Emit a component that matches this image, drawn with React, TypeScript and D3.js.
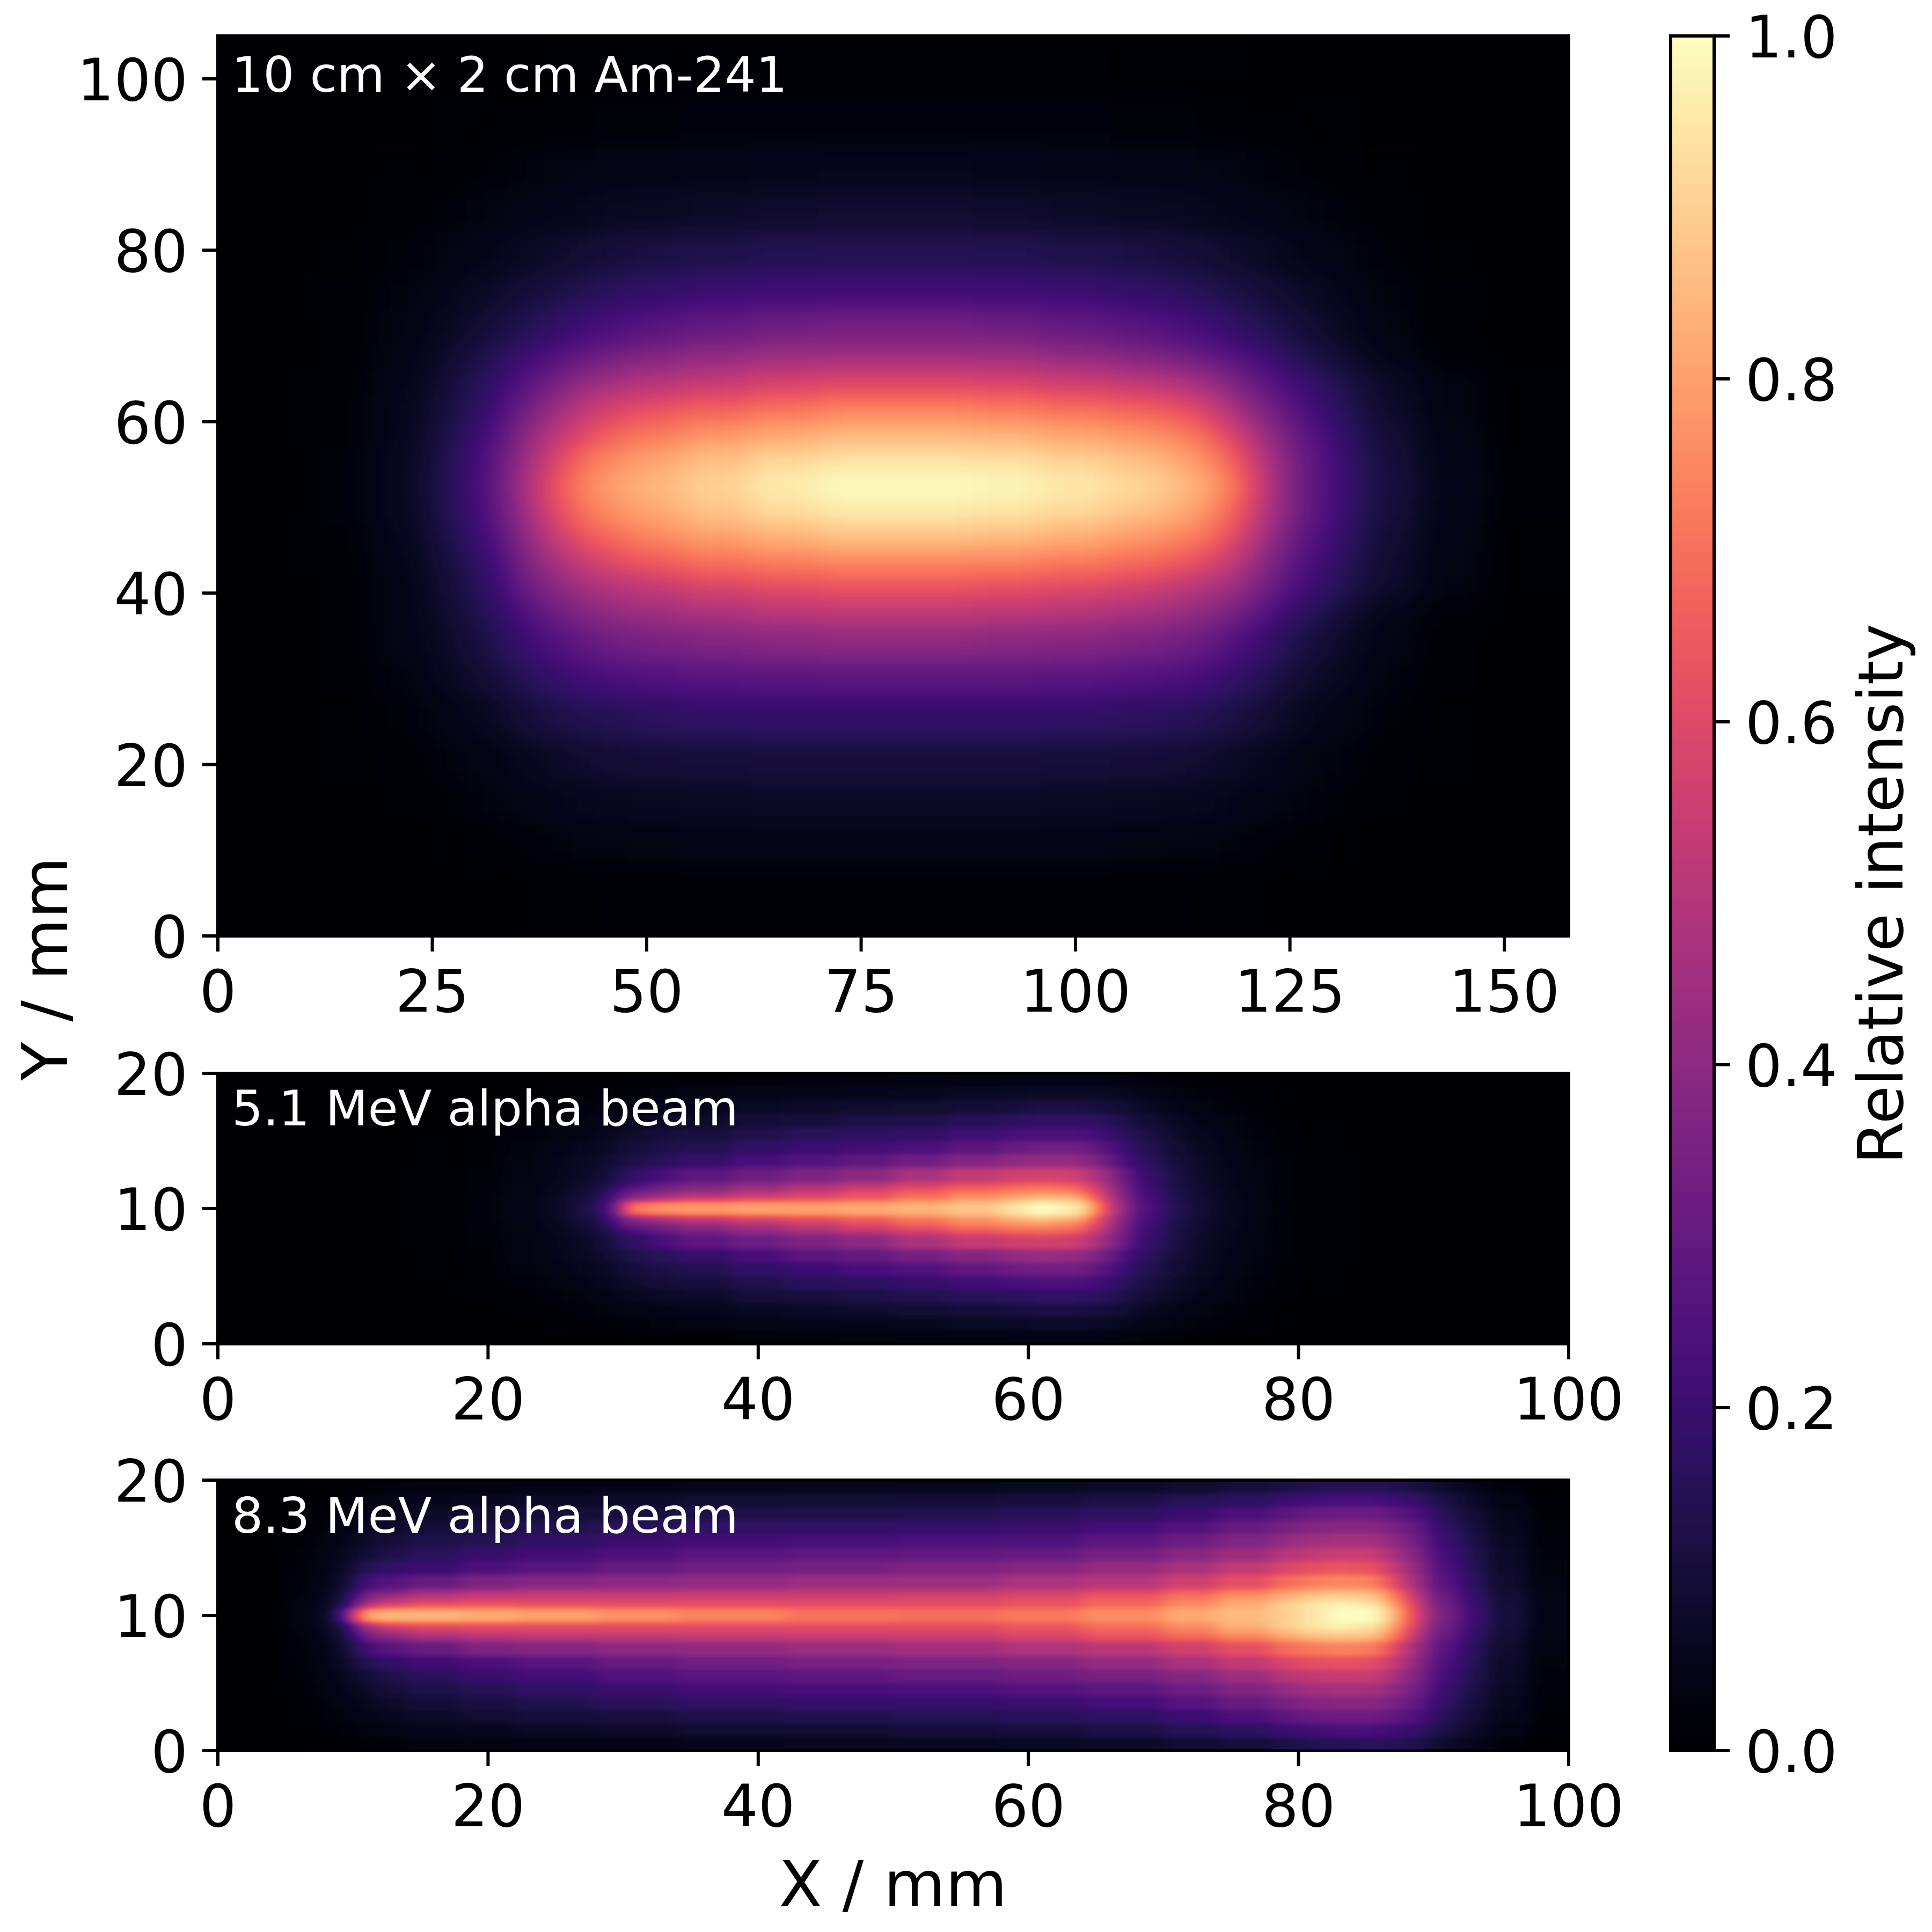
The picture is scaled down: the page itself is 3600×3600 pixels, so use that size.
// App.tsx
import React, { useEffect, useRef } from 'react';
import * as d3 from 'd3';

// Am-241 panel: cell edges in mm, rows listed top to bottom
const amXEdges = [0, 10, 18, 24, 28, 32, 35, 38, 41, 44, 48, 54, 62, 70, 78.75, 88, 96, 104, 110, 114, 117, 120, 123, 126, 130, 134, 140, 148, 157.5];
const amYEdges = [105, 98, 92, 87, 82, 77, 73, 69, 66, 63, 60, 57, 54, 51, 48, 45, 42, 39, 36, 32, 28, 23, 18, 13, 8, 0];
const amRows = [
  [0, .001, .002, .002, .003, .004, .005, .006, .007, .008, .009, .01, .011, .011, .011, .011, .01, .009, .008, .007, .006, .005, .004, .003, .002, .002, .001, 0],
  [0, .002, .004, .006, .009, .011, .013, .015, .017, .019, .021, .023, .024, .025, .025, .024, .023, .021, .019, .017, .015, .013, .011, .009, .006, .004, .002, 0],
  [.001, .004, .007, .012, .017, .021, .026, .03, .034, .038, .041, .045, .048, .05, .05, .048, .045, .041, .038, .034, .03, .026, .021, .017, .012, .007, .004, .001],
  [.001, .005, .011, .019, .027, .034, .042, .049, .056, .062, .068, .075, .082, .085, .085, .082, .075, .068, .062, .056, .049, .042, .034, .027, .019, .011, .005, .001],
  [.001, .008, .02, .03, .042, .055, .07, .082, .095, .105, .12, .135, .145, .15, .15, .145, .135, .12, .105, .095, .082, .07, .055, .042, .03, .02, .008, .001],
  [.001, .011, .028, .043, .065, .085, .105, .125, .145, .165, .185, .205, .215, .22, .22, .215, .205, .185, .165, .145, .125, .105, .085, .065, .043, .028, .011, .001],
  [.002, .011, .032, .06, .09, .12, .15, .18, .21, .24, .27, .3, .33, .34, .34, .33, .3, .27, .24, .21, .18, .15, .12, .09, .06, .032, .011, .002],
  [.002, .012, .04, .075, .12, .17, .22, .26, .3, .34, .38, .42, .45, .46, .46, .45, .42, .38, .34, .3, .26, .22, .17, .125, .08, .045, .015, .003],
  [.003, .014, .045, .09, .145, .21, .28, .35, .41, .46, .5, .54, .58, .6, .6, .59, .56, .53, .49, .44, .36, .29, .24, .18, .12, .07, .03, .006],
  [.003, .016, .05, .1, .165, .25, .35, .44, .52, .58, .63, .67, .71, .74, .74, .73, .7, .67, .63, .57, .47, .37, .29, .21, .14, .08, .033, .007],
  [.003, .017, .052, .112, .19, .3, .42, .52, .6, .67, .72, .78, .82, .85, .85, .84, .81, .78, .74, .68, .58, .46, .35, .25, .165, .095, .04, .009],
  [.004, .019, .057, .124, .21, .33, .47, .6, .7, .76, .81, .87, .92, .95, .95, .94, .91, .87, .82, .76, .67, .52, .39, .275, .18, .105, .045, .011],
  [.004, .02, .06, .13, .22, .35, .5, .64, .74, .8, .85, .91, .97, 1, 1, .99, .96, .92, .87, .81, .72, .56, .39, .28, .185, .11, .048, .012],
  [.004, .019, .057, .124, .21, .33, .48, .62, .71, .77, .82, .88, .93, .96, .96, .95, .92, .88, .83, .77, .68, .53, .39, .275, .18, .105, .045, .011],
  [.003, .017, .052, .112, .19, .3, .43, .55, .64, .69, .75, .8, .84, .87, .87, .86, .83, .79, .75, .7, .61, .48, .35, .25, .165, .095, .04, .009],
  [.003, .015, .045, .098, .165, .26, .38, .47, .54, .6, .65, .7, .73, .75, .75, .74, .72, .69, .65, .6, .52, .41, .31, .225, .15, .085, .035, .008],
  [.003, .013, .04, .085, .145, .23, .33, .39, .45, .49, .53, .58, .61, .63, .63, .62, .6, .57, .52, .48, .44, .35, .265, .195, .13, .078, .033, .008],
  [.002, .012, .04, .08, .13, .19, .26, .33, .37, .41, .44, .47, .5, .52, .52, .51, .49, .46, .43, .39, .34, .27, .2, .14, .09, .045, .015, .003],
  [.002, .011, .035, .068, .11, .155, .21, .25, .29, .32, .345, .37, .39, .4, .4, .39, .38, .355, .33, .3, .25, .2, .15, .105, .065, .035, .012, .002],
  [.002, .01, .028, .053, .085, .12, .155, .19, .215, .235, .25, .265, .275, .28, .28, .28, .27, .255, .24, .215, .185, .15, .115, .08, .05, .027, .01, .002],
  [.001, .008, .02, .036, .055, .08, .105, .125, .14, .15, .165, .175, .18, .18, .18, .18, .175, .165, .155, .14, .12, .1, .075, .052, .034, .02, .008, .001],
  [.001, .006, .013, .024, .035, .048, .06, .075, .085, .093, .1, .106, .11, .11, .11, .11, .106, .1, .093, .085, .072, .058, .046, .033, .023, .013, .006, .001],
  [.001, .004, .009, .016, .023, .031, .039, .047, .053, .058, .062, .066, .069, .07, .07, .069, .066, .062, .058, .053, .046, .038, .03, .023, .015, .009, .004, .001],
  [0, .002, .005, .009, .013, .017, .021, .026, .03, .033, .035, .038, .039, .04, .04, .039, .038, .035, .033, .03, .026, .021, .017, .013, .009, .005, .002, 0],
  [0, .001, .002, .003, .004, .005, .007, .008, .009, .01, .011, .012, .013, .013, .013, .013, .012, .011, .01, .009, .008, .007, .005, .004, .003, .002, .001, 0],
];

// shared row edges of the two beam panels
const beamYEdges = [20, 19, 18, 17, 16, 15, 14, 13, 12, 11.5, 11, 10.5, 9.5, 9, 8.5, 8, 7, 6, 5, 4, 3, 2, 1, 0];

// 5.1 MeV beam
const lowXEdges = [0, 8, 14, 18, 21, 24, 26, 28, 29, 30, 32, 34, 38, 42, 46, 50, 54, 58, 60, 62, 64, 65, 66, 67, 68, 70, 72, 74, 76, 78, 80, 84, 90, 100];
const lowRows = [
  [0, 0, .001, .002, .003, .004, .006, .008, .009, .012, .014, .016, .02, .024, .028, .03, .035, .04, .04, .04, .04, .038, .035, .03, .025, .018, .012, .008, .005, .003, .002, .001, 0],
  [0, .001, .002, .004, .007, .01, .013, .017, .02, .024, .028, .032, .04, .046, .052, .058, .065, .07, .075, .075, .073, .07, .062, .055, .045, .032, .022, .015, .01, .006, .004, .002, 0],
  [0, .001, .003, .007, .012, .017, .022, .028, .032, .04, .046, .052, .065, .075, .085, .09, .1, .11, .12, .12, .115, .11, .1, .085, .065, .047, .033, .023, .015, .009, .005, .003, .001],
  [0, .002, .005, .01, .017, .025, .033, .042, .048, .06, .07, .08, .1, .11, .125, .135, .15, .165, .175, .175, .17, .16, .14, .12, .095, .066, .045, .03, .02, .012, .007, .003, .001],
  [0, .002, .007, .013, .022, .032, .045, .058, .065, .085, .1, .115, .135, .155, .17, .185, .21, .23, .24, .24, .23, .21, .18, .15, .12, .08, .055, .036, .024, .014, .008, .004, .001],
  [0, .003, .008, .015, .026, .04, .055, .07, .08, .11, .125, .145, .175, .2, .22, .24, .28, .31, .33, .33, .31, .27, .23, .19, .14, .095, .063, .04, .027, .016, .009, .004, .001],
  [0, .003, .009, .017, .03, .046, .065, .085, .1, .135, .155, .19, .23, .26, .29, .33, .38, .41, .42, .42, .39, .34, .28, .22, .16, .105, .07, .045, .03, .018, .01, .005, .001],
  [0, .003, .01, .019, .033, .052, .075, .1, .13, .18, .23, .28, .32, .36, .4, .47, .53, .56, .57, .56, .5, .45, .36, .28, .19, .12, .075, .05, .032, .019, .011, .005, .001],
  [0, .003, .011, .02, .035, .056, .085, .12, .16, .23, .3, .35, .4, .45, .5, .57, .62, .66, .68, .66, .58, .5, .39, .3, .2, .125, .08, .052, .034, .02, .011, .005, .001],
  [0, .003, .011, .021, .037, .06, .095, .14, .22, .33, .38, .43, .49, .54, .6, .66, .71, .74, .76, .74, .65, .55, .42, .32, .21, .13, .082, .054, .035, .02, .011, .005, .001],
  [0, .004, .012, .022, .039, .065, .11, .17, .27, .42, .5, .56, .6, .63, .66, .72, .78, .83, .87, .86, .74, .6, .45, .34, .22, .135, .088, .057, .036, .021, .012, .005, .001],
  [0, .004, .012, .023, .04, .07, .12, .2, .33, .72, .77, .78, .8, .8, .82, .84, .88, .94, 1, .96, .86, .66, .48, .36, .24, .145, .09, .058, .037, .022, .012, .005, .001],
  [0, .004, .012, .022, .039, .065, .11, .17, .27, .42, .49, .55, .6, .63, .67, .73, .79, .85, .88, .85, .73, .59, .44, .34, .22, .135, .088, .057, .036, .021, .012, .005, .001],
  [0, .003, .011, .021, .037, .06, .095, .14, .22, .33, .37, .42, .48, .54, .6, .66, .72, .76, .77, .74, .65, .55, .42, .32, .21, .13, .082, .054, .035, .02, .011, .005, .001],
  [0, .003, .011, .02, .035, .056, .085, .12, .16, .23, .29, .35, .4, .45, .5, .57, .63, .67, .68, .66, .58, .5, .39, .3, .2, .125, .08, .052, .034, .02, .011, .005, .001],
  [0, .003, .01, .019, .033, .052, .075, .1, .13, .18, .23, .28, .32, .36, .4, .47, .53, .56, .57, .56, .5, .45, .36, .28, .19, .12, .075, .05, .032, .019, .011, .005, .001],
  [0, .003, .009, .017, .03, .046, .065, .085, .1, .135, .16, .19, .23, .27, .3, .34, .38, .41, .43, .42, .39, .34, .28, .22, .16, .105, .07, .045, .03, .018, .01, .005, .001],
  [0, .003, .008, .015, .026, .04, .055, .07, .08, .11, .125, .145, .175, .2, .23, .25, .29, .32, .33, .33, .31, .27, .23, .19, .14, .095, .063, .04, .027, .016, .009, .004, .001],
  [0, .002, .007, .013, .022, .032, .045, .058, .065, .085, .1, .115, .135, .155, .17, .19, .21, .23, .24, .24, .23, .21, .18, .15, .12, .08, .055, .036, .024, .014, .008, .004, .001],
  [0, .002, .005, .01, .017, .025, .033, .042, .048, .06, .07, .08, .1, .115, .125, .14, .155, .165, .175, .175, .17, .16, .14, .12, .095, .066, .045, .03, .02, .012, .007, .003, .001],
  [0, .001, .003, .007, .012, .017, .022, .028, .032, .04, .046, .052, .065, .075, .085, .095, .105, .115, .12, .12, .115, .11, .1, .085, .065, .047, .033, .023, .015, .009, .005, .003, .001],
  [0, .001, .002, .004, .007, .01, .013, .017, .02, .024, .028, .032, .04, .046, .052, .058, .065, .07, .075, .075, .073, .07, .062, .055, .045, .032, .022, .015, .01, .006, .004, .002, 0],
  [0, 0, .001, .002, .003, .004, .006, .008, .009, .012, .014, .016, .02, .024, .028, .03, .035, .04, .04, .04, .04, .038, .035, .03, .025, .018, .012, .008, .005, .003, .002, .001, 0],
];

// 8.3 MeV beam
const highXEdges = [0, 3, 5, 7, 8, 9, 10, 11, 12, 14, 18, 22, 28, 34, 42, 50, 58, 64, 70, 74, 78, 80, 82, 84, 86, 87, 88, 89, 90, 92, 94, 97, 100];
const highRows = [
  [0, .001, .003, .006, .008, .012, .016, .02, .025, .03, .035, .04, .045, .05, .055, .06, .065, .075, .09, .105, .125, .14, .15, .15, .145, .135, .125, .115, .08, .05, .025, .008],
  [0, .002, .006, .01, .014, .02, .026, .032, .04, .05, .06, .07, .08, .09, .095, .1, .11, .125, .15, .17, .2, .22, .23, .23, .22, .205, .19, .17, .12, .075, .04, .012],
  [0, .003, .009, .015, .022, .03, .038, .048, .06, .075, .09, .105, .115, .13, .135, .14, .155, .17, .2, .24, .28, .31, .32, .32, .3, .275, .25, .22, .15, .095, .05, .015],
  [0, .004, .012, .02, .03, .04, .052, .065, .08, .1, .12, .14, .155, .175, .18, .19, .2, .225, .26, .31, .35, .38, .39, .39, .37, .335, .3, .26, .175, .11, .06, .018],
  [.001, .005, .015, .026, .038, .052, .07, .085, .105, .13, .15, .175, .2, .22, .23, .24, .25, .28, .32, .37, .42, .45, .46, .46, .43, .39, .34, .29, .195, .125, .068, .02],
  [.001, .006, .018, .032, .046, .065, .09, .11, .135, .16, .195, .22, .245, .27, .285, .295, .31, .34, .39, .44, .5, .53, .55, .55, .5, .44, .38, .32, .215, .14, .075, .025],
  [.001, .007, .02, .036, .054, .08, .13, .16, .18, .2, .24, .27, .3, .33, .345, .36, .38, .42, .47, .53, .59, .62, .64, .63, .57, .5, .42, .35, .24, .15, .08, .028],
  [.001, .008, .023, .04, .062, .1, .18, .24, .26, .3, .36, .38, .4, .41, .43, .44, .47, .5, .56, .62, .69, .73, .75, .74, .66, .57, .46, .38, .26, .165, .088, .03],
  [.001, .008, .025, .044, .07, .12, .25, .33, .35, .43, .47, .5, .5, .51, .52, .53, .56, .6, .66, .72, .79, .83, .85, .84, .76, .65, .52, .41, .29, .18, .095, .034],
  [.001, .009, .027, .048, .08, .14, .33, .42, .47, .54, .57, .57, .57, .58, .58, .59, .61, .66, .72, .79, .85, .9, .92, .9, .82, .7, .56, .44, .31, .19, .1, .036],
  [.001, .009, .03, .052, .09, .17, .42, .55, .6, .64, .65, .64, .63, .63, .62, .62, .64, .69, .76, .83, .9, .95, .98, .96, .88, .75, .6, .47, .33, .2, .105, .038],
  [.001, .01, .032, .056, .1, .32, .72, .82, .84, .84, .82, .8, .77, .74, .71, .7, .72, .76, .82, .86, .9, .95, 1, 1, .92, .78, .62, .48, .34, .205, .108, .04],
  [.001, .009, .03, .052, .09, .17, .42, .54, .6, .63, .64, .63, .63, .62, .62, .62, .65, .7, .77, .84, .9, .95, .98, .96, .88, .75, .6, .47, .33, .2, .105, .038],
  [.001, .009, .027, .048, .08, .14, .32, .41, .47, .53, .56, .57, .57, .57, .58, .59, .61, .66, .72, .79, .85, .9, .92, .9, .82, .7, .56, .44, .31, .19, .1, .036],
  [.001, .008, .025, .044, .07, .12, .25, .33, .36, .43, .47, .49, .5, .51, .52, .53, .56, .61, .66, .72, .79, .83, .85, .84, .76, .65, .52, .41, .29, .18, .095, .034],
  [.001, .008, .023, .04, .062, .1, .18, .24, .27, .31, .36, .38, .4, .41, .43, .45, .48, .51, .56, .62, .69, .72, .74, .73, .66, .57, .46, .38, .26, .165, .088, .03],
  [.001, .007, .02, .036, .054, .08, .13, .16, .18, .21, .24, .27, .3, .33, .35, .36, .38, .42, .47, .53, .59, .62, .63, .62, .57, .5, .42, .35, .24, .15, .08, .028],
  [.001, .006, .018, .032, .046, .065, .09, .11, .135, .16, .195, .22, .25, .27, .285, .3, .32, .35, .39, .44, .5, .53, .54, .54, .5, .44, .38, .32, .215, .14, .075, .025],
  [.001, .005, .015, .026, .038, .052, .07, .085, .105, .13, .15, .175, .2, .22, .23, .24, .26, .28, .32, .37, .42, .45, .46, .46, .43, .39, .34, .29, .195, .125, .068, .02],
  [0, .004, .012, .02, .03, .04, .052, .065, .08, .1, .12, .14, .16, .175, .185, .19, .2, .225, .26, .31, .35, .38, .39, .39, .37, .335, .3, .26, .175, .11, .06, .018],
  [0, .003, .009, .015, .022, .03, .038, .048, .06, .075, .09, .105, .115, .13, .14, .145, .155, .17, .2, .24, .28, .31, .32, .32, .3, .275, .25, .22, .15, .095, .05, .015],
  [0, .002, .006, .01, .014, .02, .026, .032, .04, .05, .06, .07, .08, .09, .095, .1, .11, .125, .15, .17, .2, .22, .23, .23, .22, .205, .19, .17, .12, .075, .04, .012],
  [0, .001, .003, .006, .008, .012, .016, .02, .025, .03, .035, .04, .045, .05, .055, .06, .065, .075, .09, .105, .125, .14, .15, .16, .16, .15, .135, .12, .08, .05, .025, .008],
];

const amXTicks = [0, 25, 50, 75, 100, 125, 150];
const amYTicks = [0, 20, 40, 60, 80, 100];
const beamXTicks = [0, 20, 40, 60, 80, 100];
const beamYTicks = [0, 10, 20];
const barTicks = [0, 0.2, 0.4, 0.6, 0.8, 1.0];

const panelLabels = ['10 cm × 2 cm Am-241', '5.1 MeV alpha beam', '8.3 MeV alpha beam'];
const xTitle = 'X / mm';
const yTitle = 'Y / mm';
const barTitle = 'Relative intensity';

const FONT = '"DejaVu Sans", sans-serif';
const SIZE = 3600;

const App: React.FC = () => {
  const svgRef = useRef<SVGSVGElement>(null);

  useEffect(() => {
    if (!svgRef.current) return;
    const svg = d3.select(svgRef.current);
    svg.selectAll('*').remove();

    const left = 406, right = 2923;
    const panels = [
      { id: 'am', top: 67, bottom: 1744, xMax: 157.5, yMax: 105, xEdges: amXEdges, yEdges: amYEdges, rows: amRows, xTicks: amXTicks, yTicks: amYTicks, blur: '30 20', labelY: 171 },
      { id: 'low', top: 2000, bottom: 2504, xMax: 100, yMax: 20, xEdges: lowXEdges, yEdges: beamYEdges, rows: lowRows, xTicks: beamXTicks, yTicks: beamYTicks, blur: '16 5', labelY: 2097 },
      { id: 'high', top: 2758, bottom: 3262, xMax: 100, yMax: 20, xEdges: highXEdges, yEdges: beamYEdges, rows: highRows, xTicks: beamXTicks, yTicks: beamYTicks, blur: '16 5', labelY: 2856 },
    ];

    // the cells are drawn as gray levels, softened, then mapped through magma in the filter
    const channel = (k: 'r' | 'g' | 'b') =>
      d3.range(256).map(i => (d3.rgb(d3.interpolateMagma(i / 255))[k] / 255).toFixed(4)).join(' ');
    const defs = svg.append('defs');
    const pad = 120;

    panels.forEach((p, pi) => {
      const x = d3.scaleLinear().domain([0, p.xMax]).range([left, right]);
      const y = d3.scaleLinear().domain([0, p.yMax]).range([p.bottom, p.top]);

      defs.append('clipPath').attr('id', `clip-${p.id}`)
        .append('rect').attr('x', left).attr('y', p.top).attr('width', right - left).attr('height', p.bottom - p.top);

      const filter = defs.append('filter').attr('id', `map-${p.id}`)
        .attr('filterUnits', 'userSpaceOnUse')
        .attr('x', left - pad).attr('y', p.top - pad)
        .attr('width', right - left + 2 * pad).attr('height', p.bottom - p.top + 2 * pad)
        .attr('color-interpolation-filters', 'sRGB');
      filter.append('feGaussianBlur').attr('stdDeviation', p.blur);
      const transfer = filter.append('feComponentTransfer');
      transfer.append('feFuncR').attr('type', 'table').attr('tableValues', channel('r'));
      transfer.append('feFuncG').attr('type', 'table').attr('tableValues', channel('g'));
      transfer.append('feFuncB').attr('type', 'table').attr('tableValues', channel('b'));

      const cells = svg.append('g').attr('clip-path', `url(#clip-${p.id})`)
        .append('g').attr('filter', `url(#map-${p.id})`).attr('shape-rendering', 'crispEdges');
      p.rows.forEach((row, ri) => {
        row.forEach((v, ci) => {
          // outer cells run past the frame so the blur does not fade at the edges
          const x0 = ci === 0 ? left - pad : x(p.xEdges[ci]);
          const x1 = ci === row.length - 1 ? right + pad : x(p.xEdges[ci + 1]);
          const y0 = ri === 0 ? p.top - pad : y(p.yEdges[ri]);
          const y1 = ri === p.rows.length - 1 ? p.bottom + pad : y(p.yEdges[ri + 1]);
          const g = Math.round(v * 255);
          cells.append('rect').attr('x', x0).attr('y', y0).attr('width', x1 - x0).attr('height', y1 - y0)
            .attr('fill', `rgb(${g},${g},${g})`);
        });
      });

      svg.append('rect').attr('x', left).attr('y', p.top).attr('width', right - left).attr('height', p.bottom - p.top)
        .attr('fill', 'none').attr('stroke', '#000').attr('stroke-width', 6);

      const xAxis = d3.axisBottom(x).tickValues(p.xTicks).tickSize(29).tickPadding(35).tickSizeOuter(0).offset(0);
      const gx = svg.append('g').attr('transform', `translate(0,${p.bottom})`).call(xAxis as any);
      const yAxis = d3.axisLeft(y).tickValues(p.yTicks).tickSize(29).tickPadding(27).tickSizeOuter(0).offset(0);
      const gy = svg.append('g').attr('transform', `translate(${left},0)`).call(yAxis as any);
      [gx, gy].forEach(a => {
        a.select('.domain').remove();
        a.selectAll('line').attr('stroke', '#000').attr('stroke-width', 6);
        a.selectAll('text').attr('fill', '#000').style('font-family', FONT).style('font-size', '108px');
      });
      gy.selectAll('text').attr('dy', '0.37em');

      svg.append('text').attr('x', 432).attr('y', p.labelY).attr('fill', '#fff')
        .style('font-family', FONT).style('font-size', '91.5px').text(panelLabels[pi]);
    });

    // colorbar
    const barL = 3113, barR = 3194, barT = 67, barB = 3262;
    const c = d3.scaleLinear().domain([0, 1]).range([barB, barT]);
    const steps = d3.range(256);
    svg.append('g').attr('shape-rendering', 'crispEdges').selectAll('rect').data(steps).join('rect')
      .attr('x', barL).attr('width', barR - barL)
      .attr('y', d => c((d + 1) / 256))
      .attr('height', d => c(d / 256) - c((d + 1) / 256) + 1)
      .attr('fill', d => d3.interpolateMagma(d / 255));
    svg.append('rect').attr('x', barL).attr('y', barT).attr('width', barR - barL).attr('height', barB - barT)
      .attr('fill', 'none').attr('stroke', '#000').attr('stroke-width', 6);
    const barAxis = d3.axisRight(c).tickValues(barTicks).tickFormat(d3.format('.1f') as any)
      .tickSize(29).tickPadding(29).tickSizeOuter(0).offset(0);
    const gc = svg.append('g').attr('transform', `translate(${barR},0)`).call(barAxis as any);
    gc.select('.domain').remove();
    gc.selectAll('line').attr('stroke', '#000').attr('stroke-width', 6);
    gc.selectAll('text').attr('fill', '#000').attr('dy', '0.37em').style('font-family', FONT).style('font-size', '108px');

    // axis titles
    svg.append('text').attr('x', 1664).attr('y', 3552).attr('text-anchor', 'middle').attr('fill', '#000')
      .style('font-family', FONT).style('font-size', '118px').text(xTitle);
    svg.append('text').attr('transform', 'translate(125,1805) rotate(-90)').attr('text-anchor', 'middle').attr('fill', '#000')
      .style('font-family', FONT).style('font-size', '118px').text(yTitle);
    svg.append('text').attr('transform', 'translate(3545,1666) rotate(-90)').attr('text-anchor', 'middle').attr('fill', '#000')
      .style('font-family', FONT).style('font-size', '116px').text(barTitle);
  }, []);

  return (
    <svg ref={svgRef} width={SIZE} height={SIZE} viewBox={`0 0 ${SIZE} ${SIZE}`}
      style={{ position: 'absolute', left: 0, top: 0, background: '#fff' }} />
  );
};

export default App;
